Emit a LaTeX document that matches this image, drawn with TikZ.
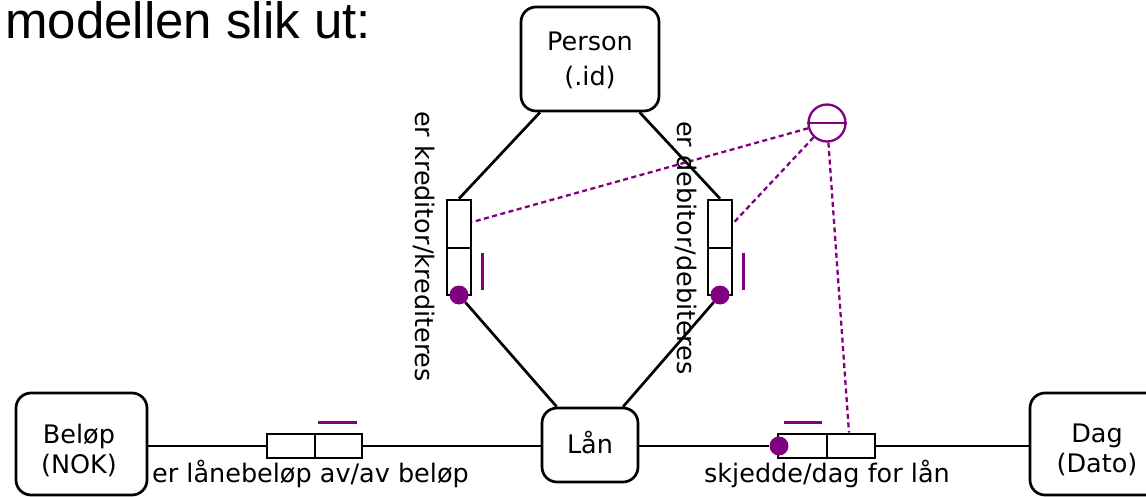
\documentclass[tikz,border=0pt]{standalone}
\usepackage{fontspec}
\newfontfamily\dvfont{DejaVu Sans}
\newfontfamily\lsfont{Liberation Sans}
\usetikzlibrary{calc}
\definecolor{orm}{RGB}{128,0,128}
\begin{document}
\begin{tikzpicture}[x=1pt,y=-1pt,
  entity/.style={draw, line width=2.7pt, rounded corners=15pt, inner sep=0pt},
  txt/.style={font=\dvfont\fontsize{25.5}{30}\selectfont, align=center, inner sep=0pt},
  txtwide/.style={font=\dvfont\fontsize{25.5}{35}\selectfont, align=center, inner sep=0pt},
  cell/.style={draw, line width=2.7pt, inner sep=0pt},
  conn/.style={line width=2.7pt},
  dotc/.style={circle, fill=orm, inner sep=0pt, minimum size=19pt},
  bar/.style={orm, line width=3pt},
  dsh/.style={orm, line width=2.3pt, dash pattern=on 5pt off 3.5pt},
]
\useasboundingbox (0,0) rectangle (1146,497);

% header
\node[anchor=base west, inner sep=0pt, font=\lsfont\fontsize{51}{60}\selectfont] (head) at (5,39) {modellen slik ut:};

% entities
\node[entity, minimum width=138pt, minimum height=104pt] (person) at (590,59) {};
\node[txtwide] (personT) at (590,60) {Person\\(.id)};
\node[entity, minimum width=96pt, minimum height=74pt] (laan) at (590,445) {};
\node[txt, anchor=base] (laanT) at (590,453) {Lån};
\node[entity, minimum width=131pt, minimum height=102pt] (beloep) at (81.5,444) {};
\node[txt] (beloepT) at (79,450) {Beløp\\(NOK)};
\node[entity, minimum width=131pt, minimum height=102pt] (dag) at (1095.5,444) {};
\node[txt] (dagT) at (1097,450) {Dag\\(Dato)};

% role cells
\node[cell, minimum width=24pt, minimum height=48pt] (k1) at (459,224) {};
\node[cell, minimum width=24pt, minimum height=47pt] (k2) at (459,271.5) {};
\node[cell, minimum width=24pt, minimum height=48pt] (d1) at (720,224) {};
\node[cell, minimum width=24pt, minimum height=47pt] (d2) at (720,271.5) {};
\node[cell, minimum width=48pt, minimum height=24pt] (b1) at (291,446) {};
\node[cell, minimum width=47pt, minimum height=24pt] (b2) at (338.5,446) {};
\node[cell, minimum width=49pt, minimum height=24pt] (r1) at (802.5,446) {};
\node[cell, minimum width=48pt, minimum height=24pt] (r2) at (851,446) {};

% mandatory dots
\node[dotc] (kd) at (459,295) {};
\node[dotc] (dd) at (720,295) {};
\node[dotc] (rd) at (779,446) {};

% connectors
\draw[conn] (person) -- (k1.north);
\draw[conn] (person) -- (d1.north);
\draw[conn] (kd) -- (laan);
\draw[conn] (dd) -- (laan);
\draw[conn] (b1.west -| beloep.east) -- (b1.west);
\draw[conn] (b2.east) -- (b2.east -| laan.west);
\draw[conn] (rd -| laan.east) -- (rd);
\draw[conn] (r2.east) -- (r2.east -| dag.west);

% uniqueness bars
\draw[bar] (482,253) -- (482,290);
\draw[bar] (743,253) -- (743,290);
\draw[bar] (318,422) -- (357,422);
\draw[bar] (784,422) -- (822,422);

% exclusion constraint
\node[circle, draw=orm, line width=2.3pt, minimum size=37pt, inner sep=0pt] (excl) at (827,123) {};
\draw[orm, line width=2.3pt] (excl.west) -- (excl.east);
\draw[dsh] (excl) -- ($(k1.east)+(0,-2)$);
\draw[dsh] (excl) -- ($(d1.east)+(0,-1)$);
\draw[dsh] (excl) -- ($(r2.north)+(-2,0)$);

% role labels
\node[txt, rotate=-90, anchor=base] (lk) at (415,246.5) {er kreditor/krediteres};
\node[txt, rotate=-90, anchor=base] (ld) at (677,248) {er debitor/debiteres};
\node[txt, anchor=base west] (lb) at (152,482) {er lånebeløp av/av beløp};
\node[txt, anchor=base east] (lr) at (950,482) {skjedde/dag for lån};
\end{tikzpicture}
\end{document}
